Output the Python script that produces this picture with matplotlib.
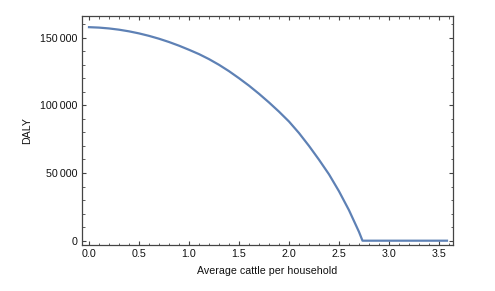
import matplotlib
matplotlib.use("Agg")
import matplotlib.pyplot as plt
from matplotlib.ticker import MultipleLocator, FixedLocator

# Data
cattle = [0.0, 0.1, 0.2, 0.3, 0.4, 0.5, 0.6, 0.7, 0.8, 0.9, 1.0,
          1.1, 1.2, 1.3, 1.4, 1.5, 1.6, 1.7, 1.8, 1.9, 2.0,
          2.1, 2.2, 2.3, 2.4, 2.5, 2.6, 2.7, 2.735, 3.0, 3.3, 3.58]
daly = [157700, 157380, 156760, 155840, 154620, 153100, 151280, 149160, 146740, 144020, 141000,
        137800, 134100, 129900, 125200, 120000, 114500, 108500, 102100, 95300, 88000,
        79500, 70000, 59800, 49000, 36500, 22500, 6500, 0, 0, 0, 0]

x_ticks = [0.0, 0.5, 1.0, 1.5, 2.0, 2.5, 3.0, 3.5]
x_tick_labels = ["0.0", "0.5", "1.0", "1.5", "2.0", "2.5", "3.0", "3.5"]
y_ticks = [0, 50000, 100000, 150000]
y_tick_labels = ["0", "50\u2009000", "100\u2009000", "150\u2009000"]

plt.rcParams['font.family'] = ['Liberation Sans', 'DejaVu Sans']

fig = plt.figure(figsize=(4.95, 2.91), dpi=100)
ax = fig.add_axes([82/495, 1-245/291, (453-82)/495, (245-15.7)/291])

ax.plot(cattle, daly, color='#5E81B5', lw=1.6, solid_joinstyle='round')

ax.set_xlim(-0.07, 3.64)
ax.set_ylim(-3180, 166170)

ax.xaxis.set_major_locator(FixedLocator(x_ticks))
ax.set_xticklabels(x_tick_labels)
ax.xaxis.set_minor_locator(MultipleLocator(0.1))
ax.yaxis.set_major_locator(FixedLocator(y_ticks))
ax.set_yticklabels(y_tick_labels)
ax.yaxis.set_minor_locator(MultipleLocator(10000))

frame_col = '#444444'
for s in ax.spines.values():
    s.set_color(frame_col)
    s.set_linewidth(0.9)

ax.tick_params(which='both', direction='in', top=True, right=True,
               color=frame_col, labelsize=7.7, labelcolor='#111111')
ax.tick_params(which='major', length=3.2, width=0.8, pad=3)
ax.tick_params(which='minor', length=1.8, width=0.6)

ax.set_xlabel("Average cattle per household", fontsize=7.7, labelpad=5, color='#111111')
ax.set_ylabel("DALY", fontsize=7.7, labelpad=6, color='#111111')

fig.savefig("out.png", dpi=100)
